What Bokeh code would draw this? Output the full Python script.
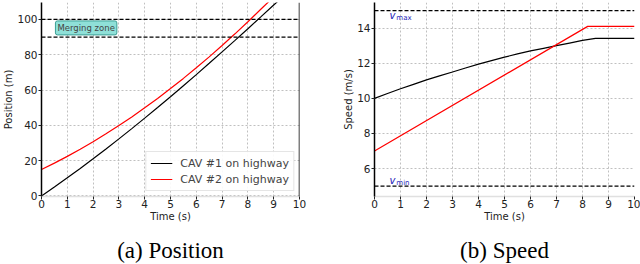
from bokeh.plotting import figure
from bokeh.layouts import row
from bokeh.models import Range1d, FixedTicker, Span, Label, Legend, LegendItem, Title
from bokeh.embed import file_html
from bokeh.resources import INLINE

# ---- data ----
t_half = [0, 0.5, 1, 1.5, 2, 2.5, 3, 3.5, 4, 4.5, 5, 5.5, 6, 6.5, 7, 7.5, 8, 8.5, 9, 9.5, 10]
pos_cav1 = [0, 5.07, 10.28, 15.61, 21.08, 26.66, 32.35, 38.16, 44.08, 50.11, 56.23,
            62.45, 68.76, 75.15, 81.61, 88.15, 94.76, 101.44, 108.15, 114.86, 121.57]
t_cav2_pos = [0, 0.5, 1, 1.5, 2, 2.5, 3, 3.5, 4, 4.5, 5, 5.5, 6, 6.5, 7, 7.5, 8, 8.2, 8.5, 9, 9.5, 10]
pos_cav2 = [15, 18.61, 22.43, 26.47, 30.73, 35.21, 39.90, 44.80, 49.93, 55.27, 60.83,
            66.60, 72.59, 78.79, 85.22, 91.86, 98.71, 101.52, 105.75, 112.8, 119.85, 126.9]
spd_cav1 = [10, 10.28, 10.55, 10.8, 11.05, 11.28, 11.5, 11.73, 11.95, 12.15, 12.35,
            12.53, 12.7, 12.85, 13.0, 13.15, 13.3, 13.42, 13.42, 13.42, 13.42]
t_cav2_spd = [0, 8.2, 10]
spd_cav2 = [7, 14.1, 14.1]
merge_zone = [90, 100]
v_limits = [5, 15]
x_ticks = list(range(11))
pos_ticks = [0, 20, 40, 60, 80, 100]
spd_ticks = [6, 8, 10, 12, 14]
labels = ["CAV #1 on highway", "CAV #2 on highway"]
captions = ["(a) Position", "(b) Speed"]

FONT = "DejaVu Sans"


def style(p, yticks, ylabel):
    p.xaxis.ticker = FixedTicker(ticks=x_ticks)
    p.yaxis.ticker = FixedTicker(ticks=yticks)
    p.xaxis.axis_label = "Time (s)"
    p.yaxis.axis_label = ylabel
    for ax in p.axis:
        ax.major_label_text_font = FONT
        ax.major_label_text_font_size = "10.5px"
        ax.major_label_text_color = "#222222"
        ax.axis_label_text_font = FONT
        ax.axis_label_text_font_size = "10px"
        ax.axis_label_text_font_style = "normal"
        ax.axis_label_text_color = "#222222"
        ax.minor_tick_line_color = None
        ax.major_tick_in = 0
        ax.major_tick_out = 3
        ax.major_tick_line_color = "#222222"
        ax.major_label_standoff = 1
        ax.axis_label_standoff = 0
    p.xaxis.major_label_standoff = 0
    p.yaxis.axis_line_color = "black"
    p.yaxis.axis_line_width = 1.5
    p.xaxis.axis_line_color = "#e0e0e0"
    p.xaxis.axis_line_width = 1.5
    for g in p.grid:
        g.grid_line_color = "#b0b0b0"
        g.grid_line_dash = "2 2"
        g.grid_line_width = 0.8
    p.outline_line_color = None


def caption(p, text):
    p.add_layout(Title(text=text, align="center",
                       text_font="Liberation Serif",
                       text_font_size="23px", text_font_style="normal",
                       text_color="black", standoff=0,
                       padding=(0, 0, 11, 0)), "below")


# ---- (a) Position ----
p1 = figure(width=320, height=264, output_backend="svg", toolbar_location=None,
            x_range=Range1d(0, 10), y_range=Range1d(-0.3, 109.6),
            min_border_left=40, min_border_right=21, min_border_top=2,
            min_border_bottom=68)
style(p1, pos_ticks, "Position (m)")
for yv in merge_zone:
    p1.add_layout(Span(location=yv, dimension="width", line_color="black",
                       line_dash="4 2", line_width=1.2))
p1.add_layout(Span(location=10, dimension="height", line_color="black", line_width=1.5))
r1 = p1.line(t_half, pos_cav1, line_color="black", line_width=1.2)
r2 = p1.line(t_cav2_pos, pos_cav2, line_color="red", line_width=1.2)
p1.add_layout(Label(x=0.54, y=95.2, text="Merging zone", text_font=FONT,
                    text_font_size="8.5px", text_baseline="middle",
                    background_fill_color="#8fe0d8", border_line_color="#3a9e94",
                    padding=2, border_radius=2))
leg = Legend(items=[LegendItem(label=labels[0], renderers=[r1]),
                    LegendItem(label=labels[1], renderers=[r2])],
             location="bottom_right", margin=5, padding=4, spacing=2,
             label_text_font=FONT, label_text_font_size="11px",
             label_height=14, glyph_height=14, glyph_width=22, label_standoff=8,
             border_line_color="#cccccc", background_fill_alpha=0.9)
p1.add_layout(leg)
caption(p1, captions[0])

# ---- (b) Speed ----
p2 = figure(width=320, height=264, output_backend="svg", toolbar_location=None,
            x_range=Range1d(0, 10), y_range=Range1d(4.41, 15.46),
            min_border_left=54, min_border_right=6, min_border_top=2,
            min_border_bottom=68)
style(p2, spd_ticks, "Speed (m/s)")
for yv in v_limits:
    p2.add_layout(Span(location=yv, dimension="width", line_color="black",
                       line_dash="4 2", line_width=1.3))
p2.line(t_half, spd_cav1, line_color="black", line_width=1.2)
p2.line(t_cav2_spd, spd_cav2, line_color="red", line_width=1.2)
blue = "#2323b8"
p2.add_layout(Label(x=0.58, y=14.72, text="v", text_font=FONT, text_font_size="10px",
                    text_font_style="italic", text_color=blue, text_baseline="middle"))
p2.add_layout(Label(x=0.84, y=14.58, text="max", text_font=FONT, text_font_size="7px",
                    text_color=blue, text_baseline="middle"))
p2.add_layout(Label(x=0.58, y=5.32, text="v", text_font=FONT, text_font_size="10px",
                    text_font_style="italic", text_color=blue, text_baseline="middle"))
p2.add_layout(Label(x=0.84, y=5.18, text="min", text_font=FONT, text_font_size="7px",
                    text_color=blue, text_baseline="middle"))
caption(p2, captions[1])

layout = row(p1, p2)
open("out.html", "w").write(file_html(layout, INLINE))
